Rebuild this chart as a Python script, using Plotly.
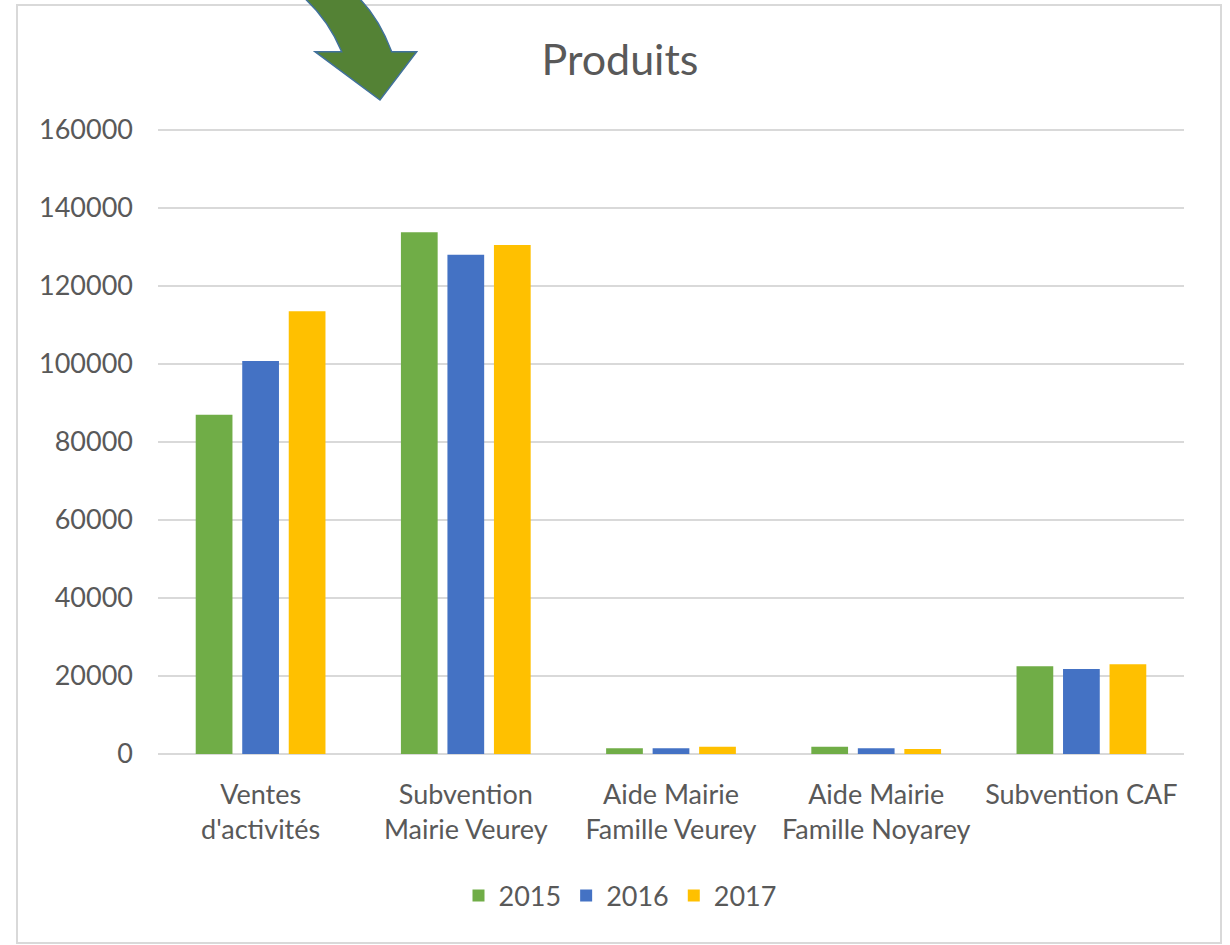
import plotly.graph_objects as go

categories = ["Ventes<br>d'activités", "Subvention<br>Mairie Veurey", "Aide Mairie<br>Famille Veurey",
              "Aide Mairie<br>Famille Noyarey", "Subvention CAF"]
years = ["2015", "2016", "2017"]
v2015 = [87000, 133800, 1450, 1850, 22500]
v2016 = [100800, 128000, 1450, 1450, 21800]
v2017 = [113500, 130500, 1850, 1300, 23000]
colors = ["#70AD47", "#4472C4", "#FFC000"]
y_ticks = [0, 20000, 40000, 60000, 80000, 100000, 120000, 140000, 160000]

W, H = 1230, 945
L, R, T, B = 158, 46, 128, 191
pw, ph = W - L - R, H - T - B
ymax = 160000 * (754 - 128) / 624

def px(x):
    return (x - L) / pw

def py(y):
    return (H - B - y) / ph

fig = go.Figure()
for name, vals, col in zip(years, [v2015, v2016, v2017], colors):
    fig.add_trace(go.Bar(x=categories, y=vals, name=name, marker=dict(color=col, line=dict(width=0))))

font = "Lato, 'Open Sans', sans-serif"
grey = "#595959"

# decorative curved arrow
pts = [(292, -12), (341.7, 51.7), (315, 51.7), (380, 100), (416.7, 51.7), (391.7, 51.7), (347, -12)]
ctrl1 = (325, 12)
ctrl2 = (375, 8)
path = (f"M {px(pts[0][0])},{py(pts[0][1])} "
        f"Q {px(ctrl1[0])},{py(ctrl1[1])} {px(pts[1][0])},{py(pts[1][1])} "
        f"L {px(pts[2][0])},{py(pts[2][1])} "
        f"L {px(pts[3][0])},{py(pts[3][1])} "
        f"L {px(pts[4][0])},{py(pts[4][1])} "
        f"L {px(pts[5][0])},{py(pts[5][1])} "
        f"Q {px(ctrl2[0])},{py(ctrl2[1])} {px(pts[6][0])},{py(pts[6][1])} Z")

shapes = [
    dict(type="rect", xref="paper", yref="paper", x0=px(17), x1=px(1221), y0=py(943), y1=py(5),
         line=dict(color="#D9D9D9", width=2), fillcolor="rgba(0,0,0,0)", layer="below"),
    dict(type="path", xref="paper", yref="paper", path=path, fillcolor="#548235",
         line=dict(color="#41719C", width=1.5)),
]

fig.update_layout(
    width=W, height=H,
    margin=dict(l=L, r=R, t=T, b=B, autoexpand=False),
    paper_bgcolor="white", plot_bgcolor="white",
    font=dict(family=font, color=grey, size=27),
    title=dict(text="Produits", x=620 / W, xref="container", xanchor="center",
               y=1 - 60 / H, yanchor="middle", font=dict(size=43, color=grey, family=font)),
    barmode="group", bargap=0.32, bargroupgap=0.21,
    legend=dict(orientation="h", x=px(620), xanchor="center", y=py(896), yanchor="middle",
                font=dict(size=27, color=grey), itemwidth=30, traceorder="normal"),
    shapes=shapes,
    xaxis=dict(showgrid=False, showline=False, ticks="", tickfont=dict(size=27, color=grey),
               ticklabelstandoff=22),
    yaxis=dict(range=[0, ymax], tickvals=y_ticks, ticktext=[str(v) for v in y_ticks],
               showgrid=True, gridcolor="#D9D9D9", gridwidth=1.5, zeroline=True, zerolinecolor="#D9D9D9",
               zerolinewidth=2, showline=False, ticks="", tickfont=dict(size=27, color=grey),
               ticklabelstandoff=24),
)

fig.write_html("out.html", config={"displayModeBar": False},
               post_script="document.body.style.margin='0';")
